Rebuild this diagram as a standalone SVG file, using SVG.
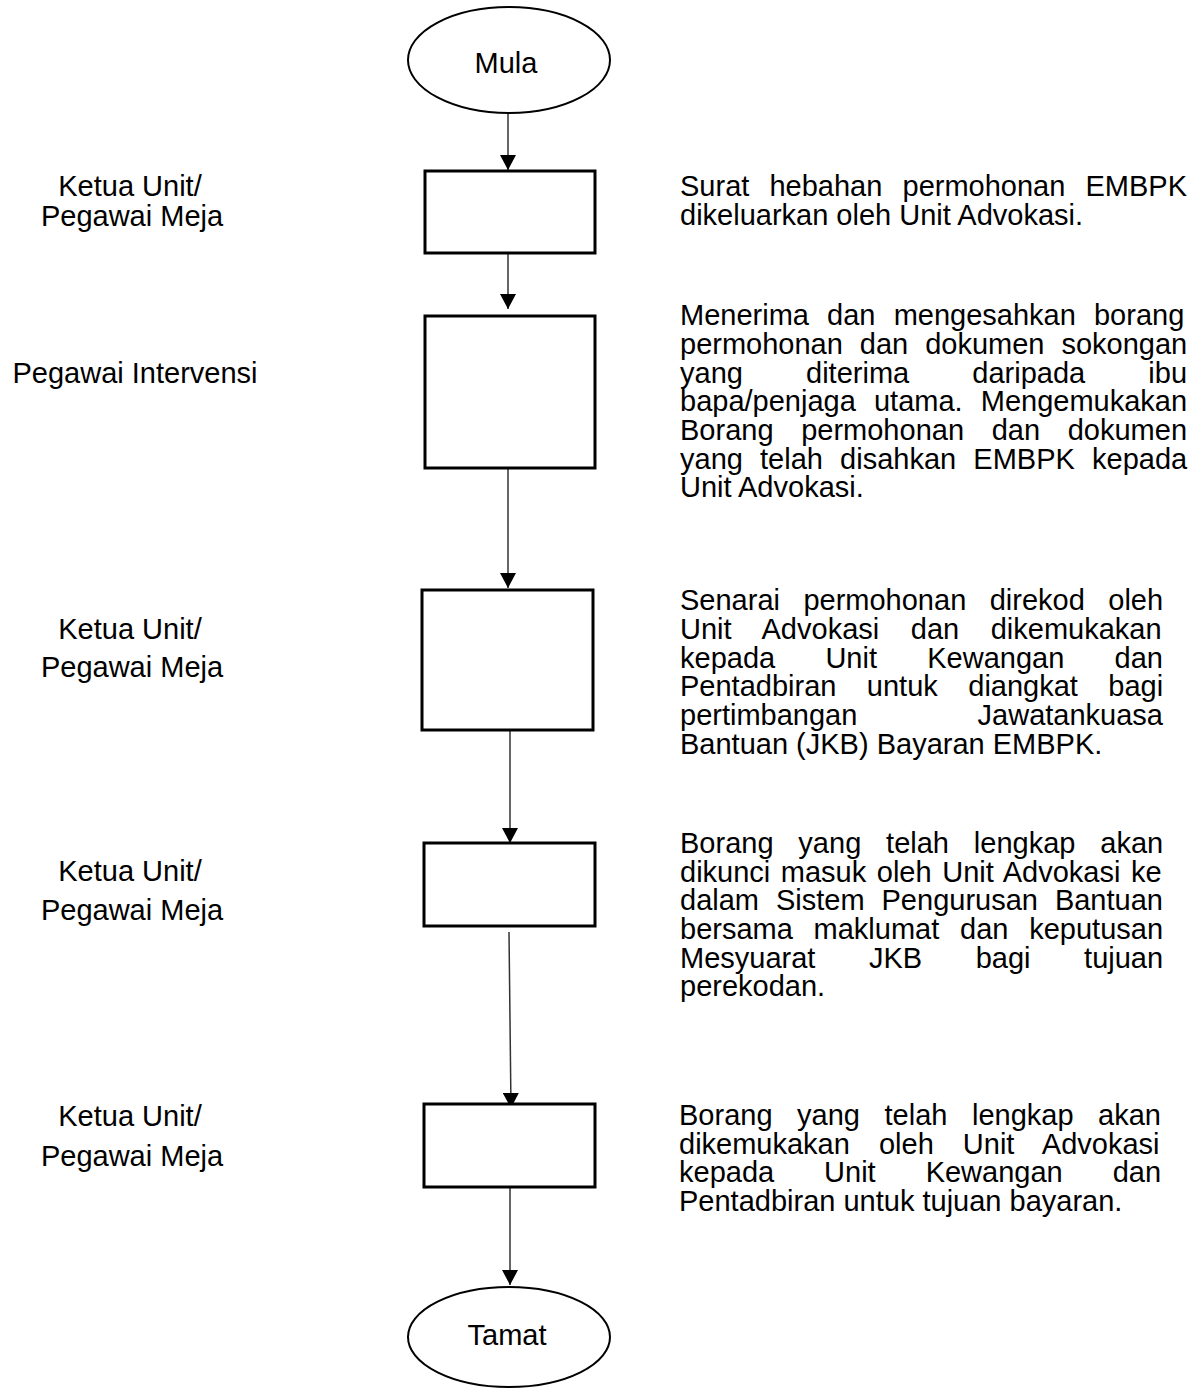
<svg xmlns="http://www.w3.org/2000/svg" width="1201" height="1390" viewBox="0 0 1201 1390">
  <style>
    text { font-family: "Liberation Sans", Arial, sans-serif; font-size: 29px; fill: #000; }
    .lbl { text-anchor: middle; }
    .box { fill: #fff; stroke: #000; stroke-width: 3; }
    .term { fill: #fff; stroke: #000; stroke-width: 2; }
    .conn { stroke: #333; stroke-width: 1.5; fill: none; marker-end: url(#arrow); }
  </style>
  <defs>
    <marker id="arrow" viewBox="0 0 15 16" refX="15" refY="8" markerWidth="15" markerHeight="16" markerUnits="userSpaceOnUse" orient="auto">
      <path d="M0,0 L15,8 L0,16 z" fill="#000"/>
    </marker>
  </defs>

  <rect width="1201" height="1390" fill="#fff"/>

  <!-- connectors -->
  <g id="connectors">
    <line class="conn" x1="508" y1="113" x2="508" y2="170"/>
    <line class="conn" x1="508" y1="253" x2="508" y2="309"/>
    <line class="conn" x1="508" y1="468" x2="508" y2="588"/>
    <line class="conn" x1="510" y1="727" x2="510" y2="843"/>
    <line class="conn" x1="509" y1="932" x2="511" y2="1108"/>
    <line class="conn" x1="510" y1="1187" x2="510" y2="1285"/>
  </g>

  <!-- start terminator -->
  <g id="start">
    <ellipse class="term" cx="509" cy="60" rx="101" ry="53"/>
    <text class="lbl" x="506" y="73">Mula</text>
  </g>

  <!-- step 1 -->
  <g id="step1">
    <rect class="box" x="425" y="171" width="170" height="82"/>
    <text class="lbl" x="130" y="196">Ketua Unit/</text>
    <text class="lbl" x="132" y="226">Pegawai Meja</text>
    <text x="680" y="196" style="word-spacing:12.1px">Surat hebahan permohonan EMBPK</text>
    <text x="680" y="225">dikeluarkan oleh Unit Advokasi.</text>
  </g>

  <!-- step 2 -->
  <g id="step2">
    <rect class="box" x="425" y="316" width="170" height="152"/>
    <text class="lbl" x="135" y="383">Pegawai Intervensi</text>
    <text x="680" y="325" style="word-spacing:10.1px">Menerima dan mengesahkan borang</text>
    <text x="680" y="354" style="word-spacing:8.9px">permohonan dan dokumen sokongan</text>
    <text x="680" y="383" style="word-spacing:55.1px">yang diterima daripada ibu</text>
    <text x="680" y="411" style="word-spacing:10.1px">bapa/penjaga utama. Mengemukakan</text>
    <text x="680" y="440" style="word-spacing:19.6px">Borang permohonan dan dokumen</text>
    <text x="680" y="469" style="word-spacing:9.1px">yang telah disahkan EMBPK kepada</text>
    <text x="680" y="497">Unit Advokasi.</text>
  </g>

  <!-- step 3 -->
  <g id="step3">
    <rect class="box" x="422" y="590" width="171" height="140"/>
    <text class="lbl" x="130" y="639">Ketua Unit/</text>
    <text class="lbl" x="132" y="677">Pegawai Meja</text>
    <text x="680" y="610" style="word-spacing:15.4px">Senarai permohonan direkod oleh</text>
    <text x="680" y="639" style="word-spacing:23.5px">Unit Advokasi dan dikemukakan</text>
    <text x="680" y="668" style="word-spacing:42.2px">kepada Unit Kewangan dan</text>
    <text x="680" y="696" style="word-spacing:22.4px">Pentadbiran untuk diangkat bagi</text>
    <text x="680" y="725" style="word-spacing:112.2px">pertimbangan Jawatankuasa</text>
    <text x="680" y="754">Bantuan (JKB) Bayaran EMBPK.</text>
  </g>

  <!-- step 4 -->
  <g id="step4">
    <rect class="box" x="424" y="843" width="171" height="83"/>
    <text class="lbl" x="130" y="881">Ketua Unit/</text>
    <text class="lbl" x="132" y="920">Pegawai Meja</text>
    <text x="680" y="853" style="word-spacing:16.8px">Borang yang telah lengkap akan</text>
    <text x="680" y="882" style="word-spacing:2.5px">dikunci masuk oleh Unit Advokasi ke</text>
    <text x="680" y="910" style="word-spacing:8.9px">dalam Sistem Pengurusan Bantuan</text>
    <text x="680" y="939" style="word-spacing:12.7px">bersama maklumat dan keputusan</text>
    <text x="680" y="968" style="word-spacing:45.5px">Mesyuarat JKB bagi tujuan</text>
    <text x="680" y="996">perekodan.</text>
  </g>

  <!-- step 5 -->
  <g id="step5">
    <rect class="box" x="424" y="1104" width="171" height="83"/>
    <text class="lbl" x="130" y="1126">Ketua Unit/</text>
    <text class="lbl" x="132" y="1166">Pegawai Meja</text>
    <text x="679" y="1125" style="word-spacing:16.5px">Borang yang telah lengkap akan</text>
    <text x="679" y="1154" style="word-spacing:21px">dikemukakan oleh Unit Advokasi</text>
    <text x="679" y="1182" style="word-spacing:41.9px">kepada Unit Kewangan dan</text>
    <text x="679" y="1211">Pentadbiran untuk tujuan bayaran.</text>
  </g>

  <!-- end terminator -->
  <g id="end">
    <ellipse class="term" cx="509" cy="1337" rx="101" ry="50"/>
    <text class="lbl" x="507" y="1345">Tamat</text>
  </g>
</svg>
